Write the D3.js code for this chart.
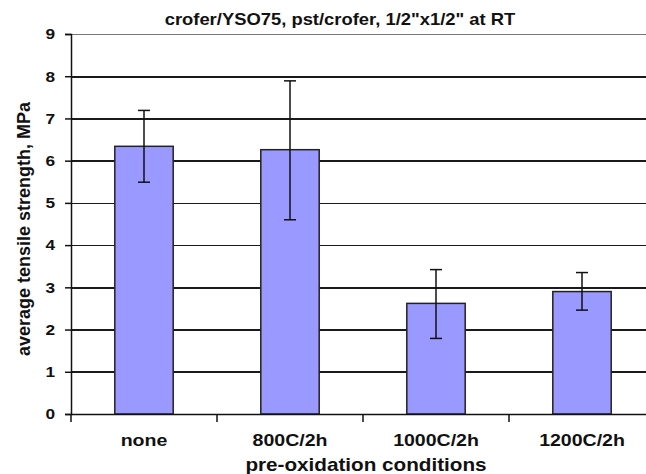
<!DOCTYPE html>
<html><head><meta charset="utf-8">
<script src="https://cdn.jsdelivr.net/npm/d3@7"></script>
<style>body{margin:0;background:#fff;} text{font-family:"Liberation Sans",Arial,sans-serif;font-weight:bold;fill:#111;}</style>
</head><body>
<svg id="c" width="646" height="474"></svg>
<script>
const categories = ["none", "800C/2h", "1000C/2h", "1200C/2h"];
const means = [6.34, 6.26, 2.62, 2.90];
const upper = [7.19, 7.89, 3.42, 3.35];
const lower = [5.49, 4.60, 1.79, 2.46];
const yTicks = [0,1,2,3,4,5,6,7,8,9];
const title = "crofer/YSO75, pst/crofer, 1/2\"x1/2\" at RT";
const yTitle = "average tensile strength, MPa";
const xTitle = "pre-oxidation conditions";

const svg = d3.select("#c");
const L = 71, R = 655, T = 34, B = 414;
const SX = 1.15;
const x = d3.scaleBand().domain(categories).range([L, R]).padding(0);
const y = d3.scaleLinear().domain([0, 9]).range([B, T]);
const bw = x.bandwidth() * 0.4;
const barX0 = (c) => x(c) + x.bandwidth()/2 - bw/2;

// gridlines behind the bars
svg.append("g").attr("class", "grid")
  .attr("transform", `translate(${L},0)`)
  .call(d3.axisLeft(y).tickValues(yTicks.slice(1)).tickSize(-(646 - L)).tickFormat(""))
  .call(g => g.select(".domain").remove())
  .call(g => g.selectAll(".tick line")
    .attr("stroke", d => d === 9 ? "#777" : "#1a1a1a")
    .attr("stroke-width", 1.6)
    .attr("shape-rendering", "crispEdges"));

// bars
svg.append("g").selectAll("rect").data(categories).join("rect")
  .attr("x", d => barX0(d))
  .attr("y", (d,i) => y(means[i]))
  .attr("width", bw)
  .attr("height", (d,i) => y(0) - y(means[i]))
  .attr("fill", "#9999FF").attr("stroke", "#222").attr("stroke-width", 1.5);

// error bars
const eg = svg.append("g").attr("stroke", "#111").attr("stroke-width", 1.5);
categories.forEach((c, i) => {
  const cx = x(c) + x.bandwidth()/2;
  eg.append("line").attr("x1", cx).attr("x2", cx).attr("y1", y(upper[i])).attr("y2", y(lower[i]));
  eg.append("line").attr("x1", cx-6).attr("x2", cx+6).attr("y1", y(upper[i])).attr("y2", y(upper[i]));
  eg.append("line").attr("x1", cx-6).attr("x2", cx+6).attr("y1", y(lower[i])).attr("y2", y(lower[i]));
});

// y axis
const ya = svg.append("g").attr("transform", `translate(${L},0)`)
  .call(d3.axisLeft(y).tickValues(yTicks).tickSize(6).tickPadding(10).tickFormat(d3.format("d")));
ya.select(".domain").attr("stroke", "#111").attr("stroke-width", 1.5);
ya.selectAll(".tick line").attr("stroke", "#111").attr("stroke-width", 1.5);
ya.selectAll(".tick text").attr("font-size", 15).attr("fill", "#111")
  .attr("font-family", "Liberation Sans, Arial, sans-serif")
  .attr("transform", function(){ const xx = +d3.select(this).attr("x"); return `translate(${xx*(1-SX)},0) scale(${SX},1)`; });

// x axis
const xa = svg.append("g").attr("transform", `translate(0,${B})`)
  .call(d3.axisBottom(x).tickSize(0).tickPadding(20));
xa.select(".domain").attr("stroke", "#111").attr("stroke-width", 1.5);
xa.selectAll(".tick text").attr("font-size", 17).attr("fill", "#111")
  .attr("font-family", "Liberation Sans, Arial, sans-serif")
  .attr("transform", `scale(${SX},1)`);
// boundary ticks
const bounds = categories.map(c => x(c));
svg.append("g").selectAll("line").data(bounds).join("line")
  .attr("x1", d => d).attr("x2", d => d).attr("y1", B).attr("y2", B + 8)
  .attr("stroke", "#111").attr("stroke-width", 1.5);

// titles
svg.append("text").attr("transform", `translate(340,25) scale(${SX},1)`).attr("text-anchor", "middle").attr("font-size", 16).text(title);
svg.append("text").attr("transform", "translate(30,229) rotate(-90)").attr("text-anchor", "middle").attr("font-size", 18).text(yTitle);
svg.append("text").attr("transform", `translate(366,471) scale(${SX},1)`).attr("text-anchor", "middle").attr("font-size", 18).text(xTitle);
</script>
</body></html>
